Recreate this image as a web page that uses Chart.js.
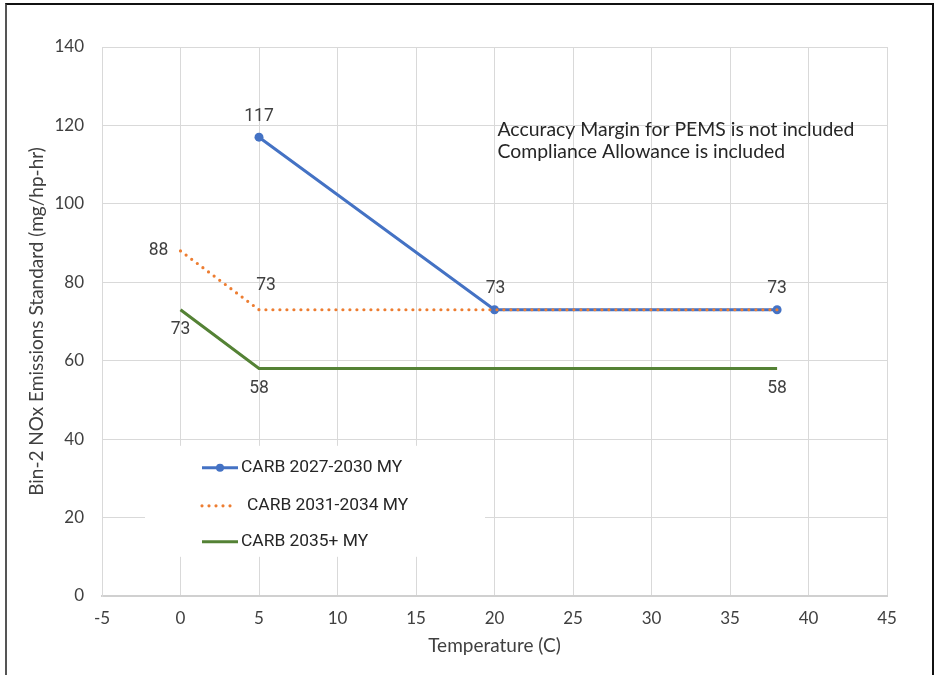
<!DOCTYPE html>
<html>
<head>
<meta charset="utf-8">
<script src="https://cdn.jsdelivr.net/npm/chart.js@4.4.1/dist/chart.umd.min.js"></script>
<style>
  html, body { margin: 0; padding: 0; background: #fff; }
  #wrap { position: relative; width: 935px; height: 675px; overflow: hidden; }
  #frame { position: absolute; left: 5px; top: 3px; width: 925px; height: 700px;
           border-left: 2px solid #555; border-top: 2px solid #111; border-right: 2px solid #111;
           pointer-events: none; }
</style>
</head>
<body>
<div id="wrap">
  <canvas id="c" width="935" height="675"></canvas>
  <div id="frame"></div>
</div>
<script>
// ---- data ----
const seriesNames = ['CARB 2027-2030 MY', 'CARB 2031-2034 MY', 'CARB 2035+ MY'];
const tempCarb2027 = [5, 20, 38];
const valCarb2027 = [117, 73, 73];
const tempCarb2031 = [0, 5, 20, 38];
const valCarb2031 = [88, 73, 73, 73];
const tempCarb2035 = [0, 5, 38];
const valCarb2035 = [73, 58, 58];
const xTicks = [-5, 0, 5, 10, 15, 20, 25, 30, 35, 40, 45];
const yTicks = [0, 20, 40, 60, 80, 100, 120, 140];
const noteLines = ['Accuracy Margin for PEMS is not included', 'Compliance Allowance is included'];
const xTitle = 'Temperature (C)';
const yTitle = 'Bin-2 NOx Emissions Standard (mg/hp-hr)';

// which points carry a data label, and where (offset in px from point)
const labelPlacement = [
  [[0, -21], [1, -21], [0, -21]],           // blue
  [[-22, 0], [7, -24], null, null],         // orange
  [[0, 20], [0, 20], [0, 20]]               // green
];

const colors = ['#4472C4', '#ED7D31', '#548235'];
const toXY = (xs, ys) => xs.map((x, i) => ({ x: x, y: ys[i] }));

const labelPlugin = {
  id: 'pointLabels',
  afterDatasetsDraw(chart) {
    const ctx = chart.ctx;
    ctx.save();
    ctx.font = '17.5px Roboto, "Noto Sans", sans-serif';
    ctx.fillStyle = '#404040';
    ctx.textAlign = 'center';
    ctx.textBaseline = 'middle';
    chart.data.datasets.forEach((ds, di) => {
      const meta = chart.getDatasetMeta(di);
      meta.data.forEach((pt, pi) => {
        const pl = labelPlacement[di][pi];
        if (!pl) return;
        ctx.fillText(String(ds.data[pi].y), pt.x + pl[0], pt.y + pl[1]);
      });
    });
    // note text
    const xs = chart.scales.x, ys = chart.scales.y;
    ctx.font = '19.4px Lato, sans-serif';
    ctx.fillStyle = '#262626';
    ctx.textAlign = 'left';
    const nx = xs.getPixelForValue(20) + 3;
    const ny = ys.getPixelForValue(119);
    noteLines.forEach((t, i) => ctx.fillText(t, nx, ny + i * 22));
    ctx.restore();
  }
};

const legendPlugin = {
  id: 'insetLegend',
  beforeDatasetsDraw(chart) {
    const ctx = chart.ctx;
    const ys = chart.scales.y;
    const left = chart.chartArea.left + 43;
    const top = ys.getPixelForValue(38.3);
    const w = 340, h = 111;
    ctx.save();
    ctx.fillStyle = '#ffffff';
    ctx.fillRect(left, top, w, h);
    const rowY = [top + 22, top + 60, top + 96];
    const textX = [left + 96, left + 102, left + 96];
    ctx.font = '17.4px Roboto, "Noto Sans", sans-serif';
    ctx.textBaseline = 'middle';
    ctx.textAlign = 'left';
    seriesNames.forEach((name, i) => {
      const y = rowY[i];
      const x0 = left + 57, x1 = left + 93;
      ctx.strokeStyle = colors[i];
      ctx.lineWidth = i === 1 ? 3.2 : 3;
      ctx.lineCap = i === 1 ? 'round' : 'butt';
      ctx.setLineDash(i === 1 ? [0, 7] : []);
      ctx.beginPath();
      ctx.moveTo(x0, y);
      ctx.lineTo(x1 - (i === 1 ? 2 : 0), y);
      ctx.stroke();
      ctx.setLineDash([]);
      if (i === 0) {
        ctx.fillStyle = colors[0];
        ctx.beginPath();
        ctx.arc((x0 + x1) / 2, y, 4, 0, Math.PI * 2);
        ctx.fill();
      }
      ctx.fillStyle = '#262626';
      ctx.fillText(name, textX[i], y);
    });
    ctx.restore();
  }
};

new Chart(document.getElementById('c'), {
  type: 'scatter',
  data: {
    datasets: [
      { label: seriesNames[0], data: toXY(tempCarb2027, valCarb2027), showLine: true,
        borderColor: colors[0], backgroundColor: colors[0], borderWidth: 3,
        pointRadius: 4.5, pointBorderWidth: 0, pointBackgroundColor: colors[0], order: 1 },
      { label: seriesNames[1], data: toXY(tempCarb2031, valCarb2031), showLine: true,
        borderColor: colors[1], backgroundColor: colors[1], borderWidth: 3.2,
        borderDash: [0, 7], borderCapStyle: 'round', pointRadius: 0, order: 0 },
      { label: seriesNames[2], data: toXY(tempCarb2035, valCarb2035), showLine: true,
        borderColor: colors[2], backgroundColor: colors[2], borderWidth: 3,
        pointRadius: 0, order: 2 }
    ]
  },
  options: {
    responsive: false,
    animation: false,
    layout: { padding: { top: 47, right: 48, left: 0, bottom: 0 } },
    plugins: { legend: { display: false }, tooltip: { enabled: false } },
    scales: {
      x: {
        type: 'linear', min: -5, max: 45,
        afterBuildTicks: (s) => { s.ticks = xTicks.map(v => ({ value: v })); },
        afterFit: (s) => { s.height = 79; },
        grid: { color: '#d9d9d9', lineWidth: 1, drawTicks: false },
        border: { color: '#d0d0d0', width: 2 },
        ticks: { color: '#404040', font: { family: 'Lato', size: 17 }, padding: 12, maxRotation: 0 },
        title: { display: true, text: xTitle, color: '#404040',
                 font: { family: 'Lato', size: 19 }, padding: { top: 0, bottom: 17.6 } }
      },
      y: {
        type: 'linear', min: 0, max: 140,
        afterBuildTicks: (s) => { s.ticks = yTicks.map(v => ({ value: v })); },
        afterFit: (s) => { s.width = 102; },
        grid: { color: '#d9d9d9', lineWidth: 1, drawTicks: false },
        border: { color: '#d9d9d9', width: 1 },
        ticks: { color: '#404040', font: { family: 'Lato', size: 17 }, padding: 18 },
        title: { display: true, text: yTitle, color: '#404040',
                 font: { family: 'Lato', size: 19 }, padding: { top: 25.6, bottom: 0 } }
      }
    }
  },
  plugins: [legendPlugin, labelPlugin]
});
</script>
</body>
</html>
